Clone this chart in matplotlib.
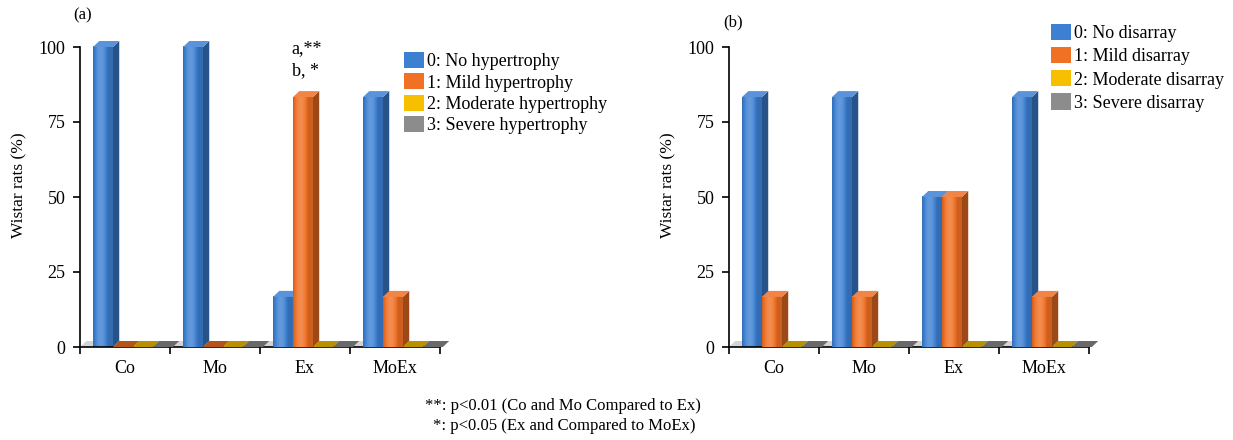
import numpy as np
import matplotlib
matplotlib.use('Agg')
from matplotlib import pyplot as plt
from matplotlib.patches import Polygon, Patch
from matplotlib.colors import to_rgb

plt.rcParams['font.family'] = ['Liberation Serif', 'DejaVu Serif']

categories = ['Co', 'Mo', 'Ex', 'MoEx']

# (a) hypertrophy, % of rats
hyp_none = [100, 100, 16.7, 83.3]
hyp_mild = [0, 0, 83.3, 16.7]
hyp_moderate = [0, 0, 0, 0]
hyp_severe = [0, 0, 0, 0]
hyp_labels = ['0: No hypertrophy', '1: Mild hypertrophy',
              '2: Moderate hypertrophy', '3: Severe hypertrophy']

# (b) disarray, % of rats
dis_none = [83.3, 83.3, 50, 83.3]
dis_mild = [16.7, 16.7, 50, 16.7]
dis_moderate = [0, 0, 0, 0]
dis_severe = [0, 0, 0, 0]
dis_labels = ['0: No disarray', '1: Mild disarray',
              '2: Moderate disarray', '3: Severe disarray']

colores = ['#3d80d2', '#f07024', '#f6c000', '#8c8c8c']

BAR_W = 0.222
DX = 0.07     # profundidade 3D (unidades de categoria)
DY = 2.0      # profundidade 3D (unidades de %)


def mistura(c, f):
    '''clareia (f>0) ou escurece (f<0) uma cor'''
    c = np.array(to_rgb(c))
    if f >= 0:
        return tuple(c + (1 - c) * f)
    return tuple(c * (1 + f))


def barra3d(ax, x0, h, cor, z):
    # face frontal com gradiente horizontal
    if h > 0:
        t = np.linspace(0, 1, 40)
        perfil = 0.35 * np.sin(np.pi * np.clip(t * 1.3, 0, 1)) - 0.15
        img = np.array([[mistura(cor, p) for p in perfil]])
        ax.imshow(img, extent=(x0, x0 + BAR_W, 0, h), aspect='auto',
                  interpolation='bilinear', zorder=z, clip_on=False)
        lado = Polygon([(x0 + BAR_W, 0), (x0 + BAR_W + DX, DY),
                        (x0 + BAR_W + DX, h + DY), (x0 + BAR_W, h)],
                       closed=True, fc=mistura(cor, -0.35), ec='none',
                       zorder=z - 0.1, clip_on=False)
        ax.add_patch(lado)
    topo = Polygon([(x0, h), (x0 + BAR_W, h), (x0 + BAR_W + DX, h + DY),
                    (x0 + DX, h + DY)], closed=True,
                   fc=mistura(cor, 0.15 if h > 0 else -0.25), ec='none',
                   zorder=z + 0.05, clip_on=False)
    ax.add_patch(topo)


def painel(ax, series, labels, legenda_xy, espaco):
    offs = [-0.356, -0.134, 0.088, 0.310]
    # piso cinza
    piso = Polygon([(-0.5, 0), (3.5, 0), (3.5 + DX, DY), (-0.5 + DX, DY)],
                   closed=True, fc='#d4d4d4', ec='none', zorder=1)
    ax.add_patch(piso)
    for i in range(len(categories)):
        for k, vals in enumerate(series):
            barra3d(ax, i + offs[k], vals[i], colores[k], 2 + i * 4 + k)

    ax.set_xlim(-0.5, 3.5)
    ax.set_ylim(0, 108)
    for s in ['top', 'right']:
        ax.spines[s].set_visible(False)
    ax.spines['left'].set_bounds(0, 100)
    ax.set_yticks([0, 25, 50, 75, 100])
    ax.set_xticks([-0.5, 0.5, 1.5, 2.5, 3.5])
    ax.set_xticklabels([])
    ax.set_xticks(range(4), minor=True)
    ax.set_xticklabels(categories, minor=True)
    ax.tick_params(axis='x', which='minor', length=0, pad=9, labelsize=13)
    ax.tick_params(axis='both', which='major', length=5, width=1.2,
                   labelsize=13, pad=3)
    ax.tick_params(axis='y', pad=5.5)
    ax.spines['left'].set_linewidth(1.2)
    ax.spines['bottom'].set_linewidth(1.2)
    ax.set_ylabel('Wistar rats (%)', fontsize=12.5, labelpad=8)

    handles = [Patch(fc=c, ec='none') for c in colores]
    ax.legend(handles, labels, loc='upper left', bbox_to_anchor=legenda_xy,
              bbox_transform=ax.figure.transFigure, frameon=False,
              fontsize=13, handlelength=1.1, handleheight=1.0,
              handletextpad=0.15, labelspacing=espaco, borderpad=0,
              borderaxespad=0)


fig = plt.figure(figsize=(12.33, 4.4), dpi=100)
ax1 = fig.add_axes([80 / 1233, 93 / 440, 360 / 1233, 324 / 440])
ax2 = fig.add_axes([729 / 1233, 93 / 440, 360 / 1233, 324 / 440])

painel(ax1, [hyp_none, hyp_mild, hyp_moderate, hyp_severe], hyp_labels,
       (404 / 1233, 1 - 52 / 440), 0.17)
painel(ax2, [dis_none, dis_mild, dis_moderate, dis_severe], dis_labels,
       (1051 / 1233, 1 - 24 / 440), 0.27)

# anotacao de significancia sobre a barra Ex (hipertrofia leve)
ax1.text(2 - 0.15, 99.5, 'a,**', fontsize=13, ha='left', va='center')
ax1.text(2 - 0.15, 92, 'b, *', fontsize=13, ha='left', va='center')

fig.text(83 / 1233, 1 - 15 / 440, '(a)', fontsize=12, ha='center', va='center')
fig.text(733 / 1233, 1 - 22 / 440, '(b)', fontsize=12, ha='center', va='center')

fig.text(425 / 1233, 1 - 406 / 440, '**: p<0.01 (Co and Mo Compared to Ex)',
         fontsize=12, ha='left', va='center')
fig.text(433 / 1233, 1 - 426 / 440, '*: p<0.05 (Ex and Compared to MoEx)',
         fontsize=12, ha='left', va='center')

fig.savefig('out.png', dpi=100)
